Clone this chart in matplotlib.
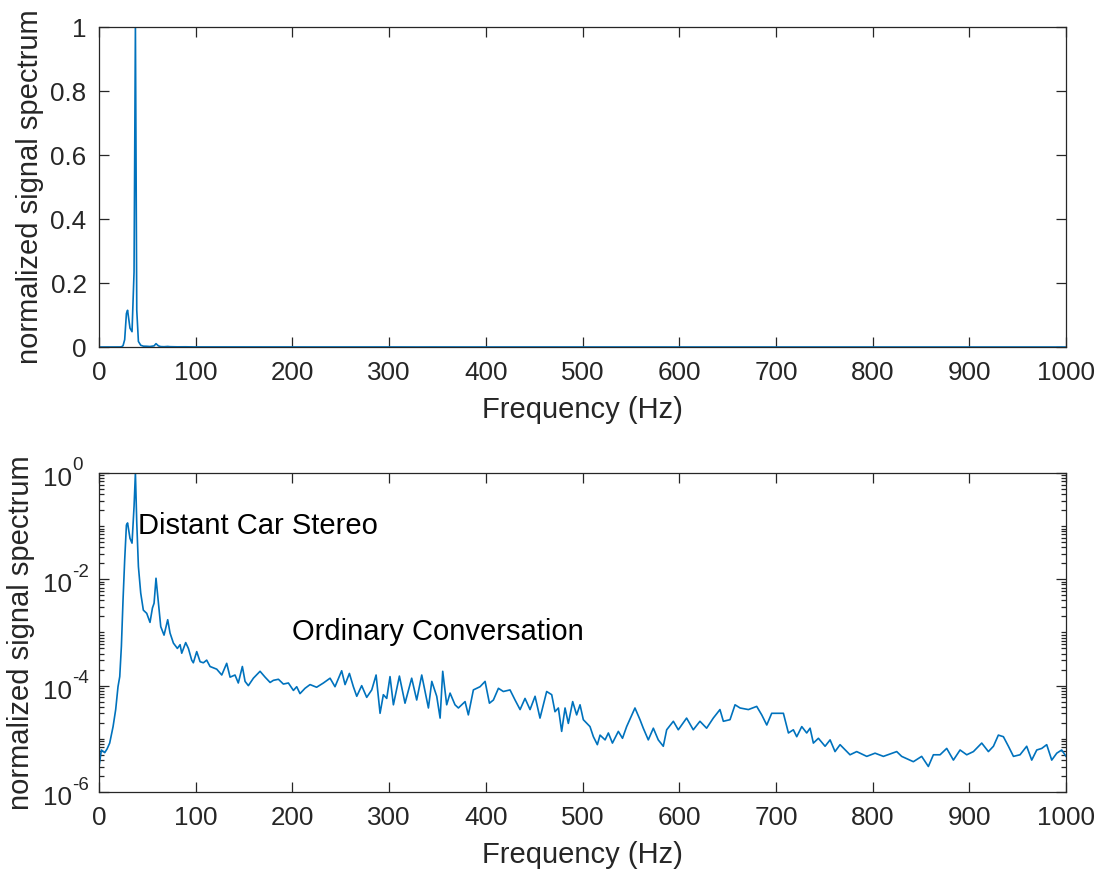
"""
Normalized signal spectrum, linear (top) and log (bottom) views.
Values read off the reference figure.
"""

import numpy as np
import matplotlib
matplotlib.use("Agg")
import matplotlib.pyplot as plt
import matplotlib.transforms as mtransforms
from matplotlib.ticker import FixedLocator, FixedFormatter, LogLocator, NullFormatter

# ─────────────────────────────────────────────────────────────
# DATA
# ─────────────────────────────────────────────────────────────

freq_hz = [
    0, 2.4, 5.9, 8.3, 11, 14.5, 17.2, 19.6, 21.4, 23.1, 24.8, 26.5, 28.3, 29.5,
    32, 34.1, 36.2, 37.6, 39, 40.7, 43.1, 45.8, 49.3, 52.7, 55.2, 56.9, 58.9,
    61.4, 63.8, 67.2, 71, 73.4, 76.9, 81, 83.8, 85.5, 89.6, 92.4, 95.8, 97.5,
    101, 104.5, 107.9, 111.3, 114.8, 121.7, 126.9, 132, 135.5, 140.6, 144,
    148.2, 151, 154.4, 159.6, 166.5, 171.7, 176.9, 180.3, 185.5, 190.6, 195.8,
    201, 204.4, 207.8, 213, 218.2, 225, 232, 238.9, 244, 250.9, 254.4, 258.9,
    263, 266.5, 271.6, 276.8, 282, 286.5, 290.6, 294, 297.5, 300.9, 304.4,
    310.6, 316.4, 323.3, 328.5, 333.7, 340.6, 344.1, 349.2, 352.7, 355.4,
    359.5, 363, 368.1, 371.6, 378.5, 381.9, 387.1, 394, 399.2, 403.7, 407.8,
    413, 418.1, 425, 430.2, 435.4, 440.5, 445.7, 450.9, 456, 462.9, 468.1,
    471.5, 475, 478.4, 481.9, 485.3, 489.8, 493.9, 497.4, 500.8, 507.7, 511.2,
    515.3, 518.1, 523.3, 526.7, 530.9, 537, 541.3, 545.6, 554.2, 559.4, 562.8,
    568, 573.2, 578.3, 583.5, 587, 593.9, 599, 607.6, 614.5, 621.4, 628.3,
    635.2, 642.1, 645.6, 652.5, 657.7, 662.9, 671.5, 680.1, 685.3, 690.5,
    695.6, 707.7, 712.9, 718, 721.5, 726.7, 731.8, 735.3, 738.7, 743.9, 750.8,
    756, 761.1, 766.3, 776.6, 783.5, 793.9, 802.5, 811.1, 824.9, 830, 842.1,
    850.7, 857.6, 862.8, 869.7, 876.6, 883.5, 890.4, 897.3, 904.2, 912.8,
    919.7, 924.9, 930, 935.2, 940.4, 945.6, 952.4, 959.3, 964.5, 969.7, 974.9,
    980, 985.2, 990.4, 995.5, 1000,
]

# log10 of the normalized spectrum at each frequency above
log10_spectrum = [
    -5.52, -5.21, -5.26, -5.19, -5.08, -4.77, -4.45, -4.02, -3.83, -3.26, -2.39,
    -1.64, -0.98, -0.94,
    -1.23, -1.32, -0.63, 0.0, -0.94, -1.76, -2.26, -2.58, -2.64, -2.81, -2.54,
    -2.45, -1.98,
    -2.45, -2.89, -3.05, -2.76, -3.01, -3.20, -3.30, -3.23, -3.39, -3.19, -3.30,
    -3.52, -3.57,
    -3.36, -3.55, -3.57, -3.52, -3.64, -3.69, -3.80, -3.58, -3.84, -3.80, -3.95,
    -3.64, -3.92, -4.00, -3.86, -3.73, -3.84, -3.94, -3.90, -3.88, -3.97, -3.95,
    -4.09, -4.02, -4.15, -4.05, -3.98, -4.03, -3.95, -3.86, -4.02, -3.72, -3.98,
    -3.77,
    -4.02, -4.20, -4.00, -4.22, -4.08, -3.80, -4.52, -4.17, -4.24, -3.83, -4.36,
    -3.82, -4.33, -3.86, -4.27, -3.80, -4.42, -3.92, -4.20, -4.61, -3.73,
    -4.36, -4.14, -4.36, -4.42, -4.30, -4.55, -4.08, -4.02, -3.92, -4.33, -4.27,
    -4.05, -4.11, -4.08, -4.27, -4.45, -4.24, -4.45, -4.20, -4.61, -4.11, -4.17,
    -4.49, -4.42, -4.86, -4.42, -4.71, -4.30, -4.55, -4.36, -4.64, -4.77, -4.96,
    -5.11, -4.93, -5.02, -4.89, -5.08, -4.86, -4.99, -4.77, -4.42, -4.64, -4.80,
    -5.02, -4.80, -5.02, -5.14, -4.83, -4.67, -4.83, -4.61, -4.83, -4.67, -4.80,
    -4.61, -4.45, -4.67, -4.64, -4.36, -4.42, -4.45, -4.39, -4.55, -4.74,
    -4.52, -4.52, -4.89, -4.83, -4.96, -4.77, -4.89, -4.80, -5.08, -4.99, -5.14,
    -5.02, -5.24, -5.11, -5.30, -5.24, -5.33, -5.27, -5.33, -5.24, -5.33, -5.43,
    -5.33, -5.52, -5.30, -5.30, -5.18, -5.40, -5.21, -5.30, -5.24, -5.08,
    -5.24, -5.14, -4.93, -4.96, -5.14, -5.33, -5.30, -5.14, -5.40, -5.21, -5.18,
    -5.11, -5.40, -5.27, -5.21, -5.33,
]

x_ticks       = [0, 100, 200, 300, 400, 500, 600, 700, 800, 900, 1000]
lin_y_ticks   = [0, 0.2, 0.4, 0.6, 0.8, 1]
lin_y_labels  = ["0", "0.2", "0.4", "0.6", "0.8", "1"]
log_y_ticks   = [1e-6, 1e-4, 1e-2, 1]
log_y_exps    = ["-6", "-4", "-2", "0"]

notes_text = ["Distant Car Stereo", "Ordinary Conversation"]
notes_x    = [40, 200]
notes_y    = [1e-1, 1e-3]

# ─────────────────────────────────────────────────────────────
# STYLE
# ─────────────────────────────────────────────────────────────

LINE_COLOR = "#0072BD"   # MATLAB default blue
AXIS_COLOR = "#262626"
TICK_SIZE  = 18.7
SUP_SIZE   = 13.5
LABEL_SIZE = 21

plt.rcParams["font.family"] = ["Liberation Sans", "DejaVu Sans"]

freq = np.array(freq_hz)
spec = 10.0 ** np.array(log10_spectrum)


def style_axes(ax, ylabel_x):
    for s in ax.spines.values():
        s.set_color(AXIS_COLOR)
        s.set_linewidth(0.9)
    ax.tick_params(which="both", direction="in", top=True, right=True,
                   colors=AXIS_COLOR, labelsize=TICK_SIZE, width=0.9)
    ax.tick_params(which="major", length=7)
    ax.tick_params(axis="x", which="major", pad=10)
    ax.tick_params(axis="y", which="major", pad=9)
    ax.tick_params(which="minor", length=3.5)
    ax.set_xlim(0, 1000)
    ax.xaxis.set_major_locator(FixedLocator(x_ticks))
    ax.set_xticklabels([str(t) for t in x_ticks])
    ax.set_xlabel("Frequency (Hz)", fontsize=LABEL_SIZE, color=AXIS_COLOR, labelpad=8)
    ax.set_ylabel("normalized signal spectrum", fontsize=LABEL_SIZE, color=AXIS_COLOR)
    ax.yaxis.set_label_coords(ylabel_x, 0.5)


fig = plt.figure(figsize=(11.03, 8.71), dpi=100)

# ── TOP: linear scale ─────────────────────────────────────────
ax1 = fig.add_axes([0.0898, 0.6016, 0.8767, 0.3674])
ax1.plot(freq, spec, color=LINE_COLOR, linewidth=1.2)
style_axes(ax1, -0.057)
ax1.set_ylim(0, 1)
ax1.yaxis.set_major_locator(FixedLocator(lin_y_ticks))
ax1.yaxis.set_major_formatter(FixedFormatter(lin_y_labels))

# ── BOTTOM: log scale ─────────────────────────────────────────
ax2 = fig.add_axes([0.0898, 0.0907, 0.8767, 0.3663])
ax2.plot(freq, spec, color=LINE_COLOR, linewidth=1.2)
ax2.set_yscale("log")
style_axes(ax2, -0.066)
ax2.set_ylim(1e-6, 1)
ax2.yaxis.set_major_locator(FixedLocator(log_y_ticks))
ax2.yaxis.set_major_formatter(NullFormatter())
ax2.yaxis.set_minor_locator(LogLocator(base=10, subs=np.arange(1, 10), numticks=20))
ax2.yaxis.set_minor_formatter(NullFormatter())

# MATLAB-style "10^n" labels: base slightly below the tick, exponent raised
ytrans = ax2.get_yaxis_transform()
base_tr = mtransforms.offset_copy(ytrans, fig=fig, x=0, y=-6, units="dots")
exp_tr = mtransforms.offset_copy(ytrans, fig=fig, x=0, y=7, units="dots")
lab_x = -27.0 / (0.8767 * 1103)
for tick, exp in zip(log_y_ticks, log_y_exps):
    ax2.text(lab_x, tick, "10", transform=base_tr, fontsize=TICK_SIZE,
             color=AXIS_COLOR, ha="right", va="center")
    ax2.text(lab_x, tick, exp, transform=exp_tr, fontsize=SUP_SIZE,
             color=AXIS_COLOR, ha="left", va="center")

for txt, x, y in zip(notes_text, notes_x, notes_y):
    ax2.text(x, y, txt, fontsize=LABEL_SIZE, color="black", ha="left", va="center")

fig.savefig("out.png", dpi=100)
